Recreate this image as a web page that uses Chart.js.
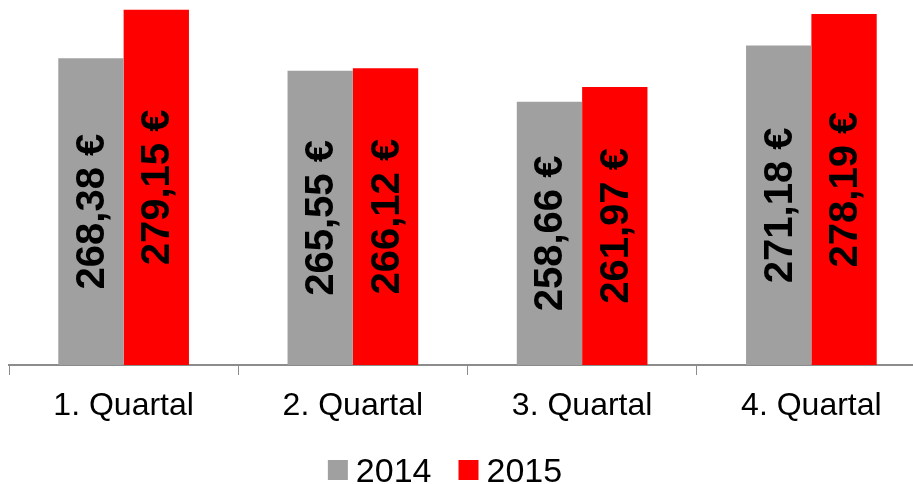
<!DOCTYPE html>
<html><head><meta charset="utf-8">
<script src="https://cdn.jsdelivr.net/npm/chart.js@4/dist/chart.umd.min.js"></script>
<style>html,body{margin:0;padding:0;overflow:hidden;background:#fff}#wrap{width:935px;height:484px;position:relative}</style>
</head><body><div id="wrap"><canvas id="c"></canvas></div>
<script>
const categories = ['1. Quartal', '2. Quartal', '3. Quartal', '4. Quartal'];
const seriesNames = ['2014', '2015'];
const values2014 = [268.38, 265.55, 258.66, 271.18];
const values2015 = [279.15, 266.12, 261.97, 278.19];
const seriesColors = ['#A0A0A0', '#FF0000'];
const yMin = 200, yMax = 280;

const FONT = '"Liberation Sans", Arial, Helvetica, sans-serif';
const fmt = v => v.toFixed(2).replace('.', ',') + ' €';

const valueLabels = {
  id: 'valueLabels',
  afterDraw(chart) {
    const ctx = chart.ctx;
    const yScale = chart.scales.y;
    ctx.save();
    ctx.font = 'bold 40px ' + FONT;
    ctx.fillStyle = '#000';
    ctx.textAlign = 'center';
    ctx.textBaseline = 'middle';
    chart.data.datasets.forEach((ds, di) => {
      chart.getDatasetMeta(di).data.forEach((bar, i) => {
        const p = bar.getProps(['x', 'y'], true);
        const top = yScale.getPixelForValue(ds.data[i]);
        const base = yScale.getPixelForValue(yMin);
        const cy = (top + base) / 2;
        ctx.save();
        ctx.translate(p.x + 2, cy);
        ctx.rotate(-Math.PI / 2);
        ctx.fillText(fmt(ds.data[i]), 0, 0);
        ctx.restore();
      });
    });
    ctx.restore();
  }
};

const customLegend = {
  id: 'customLegend',
  afterDraw(chart) {
    const ctx = chart.ctx;
    ctx.save();
    ctx.font = '34px ' + FONT;
    const box = 20, gapText = 8, gapItem = 27;
    const widths = seriesNames.map(n => ctx.measureText(n).width);
    let total = 0;
    widths.forEach((w, i) => { total += box + gapText + w + (i < widths.length - 1 ? gapItem : 0); });
    let x = 445 - total / 2;
    const boxTop = 460, baseline = 482;
    ctx.textBaseline = 'alphabetic';
    ctx.textAlign = 'left';
    seriesNames.forEach((n, i) => {
      ctx.fillStyle = seriesColors[i];
      ctx.fillRect(x, boxTop, box, box);
      ctx.fillStyle = '#000';
      ctx.fillText(n, x + box + gapText, baseline);
      x += box + gapText + widths[i] + gapItem;
    });
    ctx.restore();
  }
};

new Chart(document.getElementById('c'), {
  type: 'bar',
  data: {
    labels: categories,
    datasets: [
      { label: seriesNames[0], data: values2014, backgroundColor: seriesColors[0], borderWidth: 0 },
      { label: seriesNames[1], data: values2015, backgroundColor: seriesColors[1], borderWidth: 0 }
    ]
  },
  options: {
    responsive: true,
    maintainAspectRatio: false,
    animation: false,
    devicePixelRatio: 1,
    layout: { padding: { left: 9, right: 9, top: 6, bottom: 0 } },
    datasets: { bar: { categoryPercentage: 0.57, barPercentage: 1 } },
    plugins: { legend: { display: false }, tooltip: { enabled: false } },
    scales: {
      x: {
        offset: true,
        afterFit(scale) { scale.height = 119; },
        grid: { offset: true, drawOnChartArea: false, drawTicks: true, tickLength: 10, color: '#8C8C8C', lineWidth: 1 },
        border: { display: true, color: '#8C8C8C', width: 2 },
        ticks: { color: '#000', font: { family: FONT, size: 32 }, padding: 12, maxRotation: 0 }
      },
      y: { display: false, min: yMin, max: yMax }
    }
  },
  plugins: [valueLabels, customLegend]
});
</script>
</body></html>
